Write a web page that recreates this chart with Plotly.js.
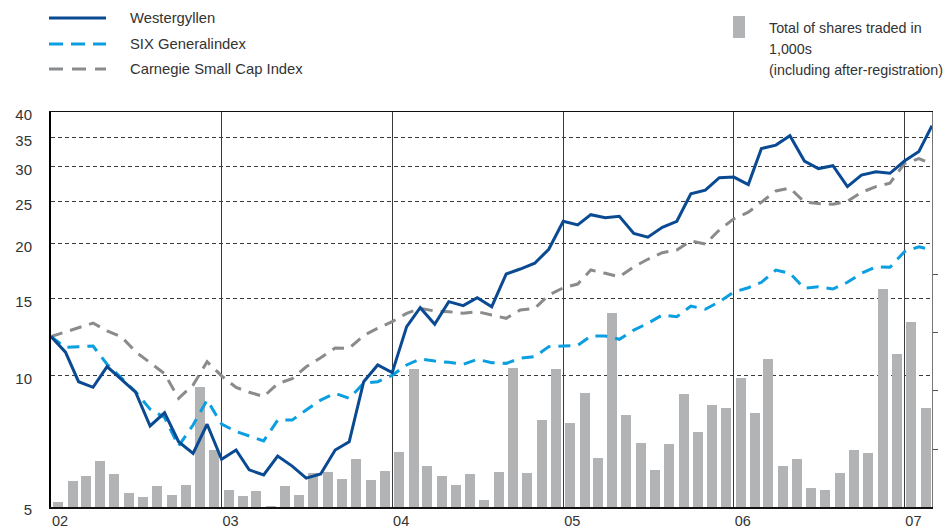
<!DOCTYPE html>
<html>
<head>
<meta charset="utf-8">
<script src="https://cdn.plot.ly/plotly-3.0.1.min.js"></script>
<style>
html,body{margin:0;padding:0;background:#ffffff;}
#chart{width:948px;height:531px;}
</style>
</head>
<body>
<div id="chart"></div>
<script>
// ---------- data ----------
const yearTicks = ['2002-01-01','2003-01-01','2004-01-01','2005-01-01','2006-01-01','2007-01-01'];
const yearLabels = ['02','03','04','05','06','07'];
const priceTicks = [5,10,15,20,25,30,35,40];
const volumeTicks = [1000,2000,3000,4000];

const seriesNames = ['Westergyllen','SIX Generalindex','Carnegie Small Cap Index'];
const volumeName = ['Total of shares traded in','1,000s','(including after-registration)'];

// monthly closing values, Jan 2002 start .. Mar 2007 start (63 points)
const westergyllen = [12.26,11.3,9.67,9.39,10.47,9.79,9.15,7.66,8.21,7.05,
  6.63,7.73,6.43,6.75,6.08,5.92,6.54,6.20,5.82,5.95,
  6.75,7.05,9.67,10.56,10.14,12.92,14.28,13.08,14.74,14.43,
  15.05,14.35,17.05,17.5,18.04,19.42,22.5,22.07,23.3,22.93,
  23.1,21.1,20.7,21.8,22.5,26.0,26.5,28.3,28.4,27.3,
  33.0,33.6,35.3,30.9,29.7,30.15,27.0,28.7,29.2,28.97,
  30.9,32.5,37.2];
const sixGeneral = [12.26,11.58,11.63,11.67,10.6,9.84,9.17,8.37,8.01,6.89,
  7.70,8.78,7.74,7.44,7.27,7.08,7.90,7.90,8.33,8.78,
  9.10,8.86,9.59,9.67,10.0,10.56,10.9,10.78,10.71,10.6,
  10.88,10.69,10.65,10.94,11.03,11.63,11.67,11.71,12.3,12.3,
  12.09,12.69,13.15,13.74,13.61,14.4,14.16,14.73,15.5,15.86,
  16.32,17.41,17.11,15.81,15.94,15.75,16.32,17.11,17.71,17.66,
  19.17,19.68,19.34];
const carnegie = [12.26,12.58,12.83,13.17,12.63,12.24,11.32,10.67,10.09,8.86,
  9.5,10.74,9.97,9.38,9.15,8.94,9.57,9.82,10.46,10.97,
  11.55,11.53,12.33,12.81,13.26,13.86,14.23,14.03,13.98,13.86,
  13.98,13.74,13.5,14.1,14.23,15.26,15.85,16.17,17.41,17.11,
  16.8,17.71,18.42,19.07,19.34,20.3,19.96,21.5,22.8,23.6,
  24.9,26.4,26.8,24.9,24.7,24.6,25.0,26.2,27.0,27.5,
  30.5,31.3,30.4];
// monthly shares traded, Jan 2002 .. Feb 2007 (62 bars)
const sharesTraded = [91,453,538,798,572,245,178,366,210,383,
  2074,986,298,195,281,22,367,212,591,609,
  488,833,471,626,953,2379,712,540,384,574,
  126,609,2397,591,1500,2379,1453,1971,850,3350,
  1591,1109,643,1091,1953,1298,1764,1712,2229,1626,
  2552,712,833,333,293,591,988,936,3764,2643,
  3195,1712];

// ---------- build ----------
function monthDate(k, day){
  return new Date(Date.UTC(2002, k, day)).toISOString().slice(0,10);
}
const lineDates = westergyllen.map((_, k) => monthDate(k, 1));
const barDates = sharesTraded.map((_, k) => monthDate(k, 16));

const COL_WG = '#0a4a92';
const COL_SIX = '#0b9ee0';
const COL_CAR = '#8a8b8d';
const COL_BAR = '#b2b3b5';
const TXT = '#333333';
const FONT = '"Liberation Sans", Arial, Helvetica, sans-serif';

const traces = [
  {type:'bar', x:barDates, y:sharesTraded, yaxis:'y', xaxis:'x',
   width:1.85e9, marker:{color:COL_BAR, line:{width:0}}, name:volumeName.join(' '),
   showlegend:false, hoverinfo:'skip'},
  {type:'scatter', mode:'lines', x:lineDates, y:carnegie, yaxis:'y2',
   line:{color:COL_CAR, width:3, dash:'12px,8px'}, name:seriesNames[2], showlegend:false},
  {type:'scatter', mode:'lines', x:lineDates, y:sixGeneral, yaxis:'y2',
   line:{color:COL_SIX, width:3, dash:'12px,8px'}, name:seriesNames[1], showlegend:false},
  {type:'scatter', mode:'lines', x:lineDates, y:westergyllen, yaxis:'y2',
   line:{color:COL_WG, width:3}, name:seriesNames[0], showlegend:false}
];

// pixel -> paper helpers for the hand-drawn legend
const L=51, R=16, T=112, B=24, W=948, H=531;
const pw = W-L-R, ph = H-T-B;
const px = x => (x-L)/pw;
const py = y => (H-B-y)/ph;

const shapes = [
  {type:'line', xref:'paper', yref:'paper', x0:px(49), x1:px(106), y0:py(18), y1:py(18),
   line:{color:COL_WG, width:3}},
  {type:'line', xref:'paper', yref:'paper', x0:px(49), x1:px(106), y0:py(44), y1:py(44),
   line:{color:COL_SIX, width:3, dash:'14px,8px'}},
  {type:'line', xref:'paper', yref:'paper', x0:px(49), x1:px(106), y0:py(69), y1:py(69),
   line:{color:COL_CAR, width:3, dash:'14px,9px'}},
  {type:'rect', xref:'paper', yref:'paper', x0:px(733), x1:px(745), y0:py(38), y1:py(16),
   fillcolor:COL_BAR, line:{width:0}}
];

const annTexts = [
  [seriesNames[0], 128, 18, 14.8],
  [seriesNames[1], 128, 44, 14.8],
  [seriesNames[2], 128, 69, 14.8],
  [volumeName[0], 767, 28, 14.3],
  [volumeName[1], 767, 49, 14.3],
  [volumeName[2], 767, 69.5, 14.3]
];
const annotations = annTexts.map(a => ({
  text:a[0], xref:'paper', yref:'paper', x:px(a[1]), y:py(a[2]),
  xanchor:'left', yanchor:'middle', showarrow:false,
  font:{family:FONT, size:a[3], color:TXT}
}));

const layout = {
  width:W, height:H,
  margin:{l:L, r:R, t:T, b:B, pad:0},
  paper_bgcolor:'#ffffff', plot_bgcolor:'#ffffff',
  showlegend:false,
  font:{family:FONT, size:15, color:TXT},
  bargap:0,
  xaxis:{
    type:'date', range:['2002-01-01','2007-03-01'],
    tickmode:'array', tickvals:yearTicks, ticktext:yearLabels,
    showgrid:true, gridcolor:'#3a3a3a', gridwidth:1,
    showline:true, linecolor:'#111111', linewidth:1.5, mirror:true,
    ticks:'', ticklabelshift:9, ticklabelstandoff:0,
    tickfont:{family:FONT, size:14.5, color:TXT},
    zeroline:false, fixedrange:true
  },
  yaxis:{
    side:'right', range:[0, 6810],
    tickmode:'array', tickvals:volumeTicks,
    showticklabels:false, ticks:'outside', ticklen:5, tickcolor:'#555555', tickwidth:1,
    showgrid:false, zeroline:false,
    showline:true, linecolor:'#777777', linewidth:1, fixedrange:true
  },
  yaxis2:{
    type:'log', overlaying:'y', side:'left',
    range:[Math.log10(5), Math.log10(40)],
    tickmode:'array', tickvals:priceTicks, ticktext:priceTicks.map(String),
    showgrid:true, gridcolor:'#3a3a3a', gridwidth:1, griddash:'4px,3px',
    showline:true, linecolor:'#000000', linewidth:2,
    ticks:'', ticklabelstandoff:14, ticklabelshift:3,
    tickfont:{family:FONT, size:15, color:TXT},
    zeroline:false, fixedrange:true
  },
  shapes:shapes,
  annotations:annotations
};

Plotly.newPlot('chart', traces, layout, {staticPlot:true, displayModeBar:false});
</script>
</body>
</html>
